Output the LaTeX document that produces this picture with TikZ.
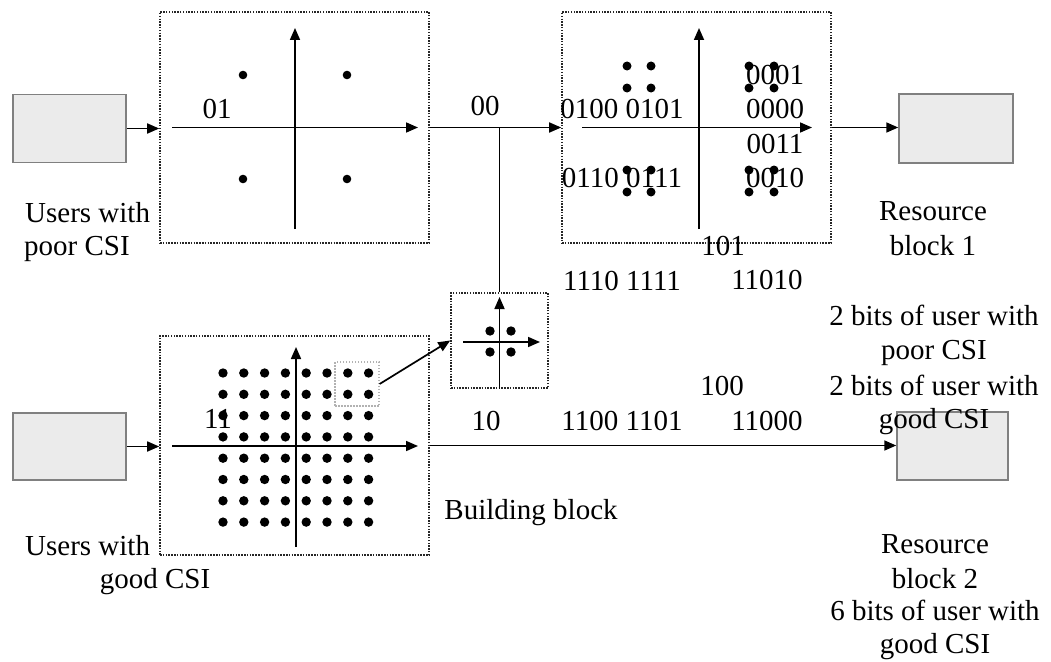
\documentclass[tikz,border=0pt]{standalone}
\usepackage{fontspec}
\setmainfont{Liberation Serif}
\usetikzlibrary{arrows.meta}
\begin{document}
\begin{tikzpicture}[x=1pt,y=-1pt,
 arr/.style={line width=1.7pt,-{Triangle[length=12pt,width=10pt]}},
 ln/.style={line width=1.7pt},
 src/.style={draw=black!50,fill=black!8,line width=1.5pt,minimum width=113pt,minimum height=68pt,inner sep=0pt},
 cbox/.style={draw=black!85,line width=1.6pt,dash pattern=on 1.5pt off 1.3pt,inner sep=0pt},
 hl/.style={draw=black!30,line width=1.2pt,dash pattern=on 1.5pt off 1.5pt,minimum size=44pt,inner sep=0pt},
 lbl/.style={inner sep=0pt,anchor=base,font=\fontsize{29}{34}\selectfont},
 lbll/.style={lbl,anchor=base west},
]
\useasboundingbox (0,0) rectangle (1051,661);
% boxes
\node[src] (u1) at (69.5,128.5) {};
\node[cbox,minimum width=269pt,minimum height=231pt] (c1) at (294.5,127.5) {};
\node[cbox,minimum width=269pt,minimum height=231pt] (c2) at (696.5,127.5) {};
\node[src,minimum width=114pt,minimum height=69pt] (r1) at (956,128.5) {};
\node[src,minimum height=67pt] (u2) at (69.5,446.5) {};
\node[cbox,minimum width=269pt,minimum height=219pt] (c3) at (294.5,445.5) {};
\node[cbox,minimum width=97pt,minimum height=95pt] (c4) at (499.5,340.5) {};
\node[src,minimum width=111pt,minimum height=68pt] (r2) at (952.5,446) {};
\node[hl] (h) at (357,384) {};
\coordinate (j) at (499.5,127.5);
% connectors
\draw[arr] (u1.east) -- (u1.east -| c1.west);
\draw[arr] (c1.east) -- (c2.west);
\draw[arr] (c2.east) -- (c2.east -| r1.west);
\draw[arr] (u2.east) -- (u2.east -| c3.west);
\draw[arr] (c3.east) -- (c3.east -| r2.west);
\draw[ln] (j) -- (c4.north);
\draw[arr] (h.east) -- (c4.west);
% axes
\draw[arr] (172,127.5) -- (418,127.5);
\draw[arr] (295,229) -- (295,28);
\draw[arr] (582,127.5) -- (812,127.5);
\draw[arr] (699,229) -- (699,28);
\draw[arr] (172,446) -- (418,446);
\draw[arr] (296,547) -- (296,347);
\draw[arr] (463,342) -- (540,342);
\draw[arr] (c4.south) -- (499.5,297);
% dots
\foreach \p in {(243,75),(347,75),(243,179),(347,179)} \fill \p circle (4.3pt);
\foreach \x in {627,651,749,774} \foreach \y in {66,88,170,192} \fill (\x,\y) circle (4.5pt);
\foreach \i in {0,...,7} \foreach \k in {0,...,7} \fill ({223+20.8*\i},{373+21.3*\k}) circle (4.7pt);
\foreach \p in {(490,331),(511,331),(490,352),(511,352)} \fill \p circle (4.7pt);
% labels
\node[lbl] (l01) at (217,118) {01};
\node[lbl] (l00) at (485,115) {00};
\node[lbl] (l0001) at (775,84) {0001};
\node[lbl] (l0100) at (622,118) {0100 0101};
\node[lbl] (l0000) at (775,118) {0000};
\node[lbl] (l0011) at (775,153) {0011};
\node[lbl] (l0110) at (622,187) {0110 0111};
\node[lbl] (l0010) at (775,187) {0010};
\node[lbl] (l101) at (723,255) {101};
\node[lbl] (l1110) at (622,290) {1110 1111};
\node[lbl] (l11010) at (767,289) {11010};
\node[lbl] (l100) at (722,395) {100};
\node[lbl] (l10) at (486,430) {10};
\node[lbl] (l1100) at (622,430) {1100 1101};
\node[lbl] (l11000) at (767,430) {11000};
\node[lbl] (l11) at (218,428) {11};
\node[lbl] (bb) at (531,519) {Building block};
\node[lbll] (up1) at (25,222) {Users with};
\node[lbll] (up2) at (24,255) {poor CSI};
\node[lbll] (ug1) at (25,555) {Users with};
\node[lbl] (ug2) at (155,588) {good CSI};
\node[lbl] (rb1a) at (933,220) {Resource};
\node[lbl] (rb1b) at (933,255) {block 1};
\node[lbl] (b1) at (934,325) {2 bits of user with};
\node[lbl] (b2) at (934,359) {poor CSI};
\node[lbl] (b3) at (934,395) {2 bits of user with};
\node[lbl] (b4) at (934,428) {good CSI};
\node[lbl] (rb2a) at (935,553) {Resource};
\node[lbl] (rb2b) at (935,588) {block 2};
\node[lbl] (rb2c) at (935,620) {6 bits of user with};
\node[lbl] (rb2d) at (935,653) {good CSI};
\end{tikzpicture}
\end{document}
